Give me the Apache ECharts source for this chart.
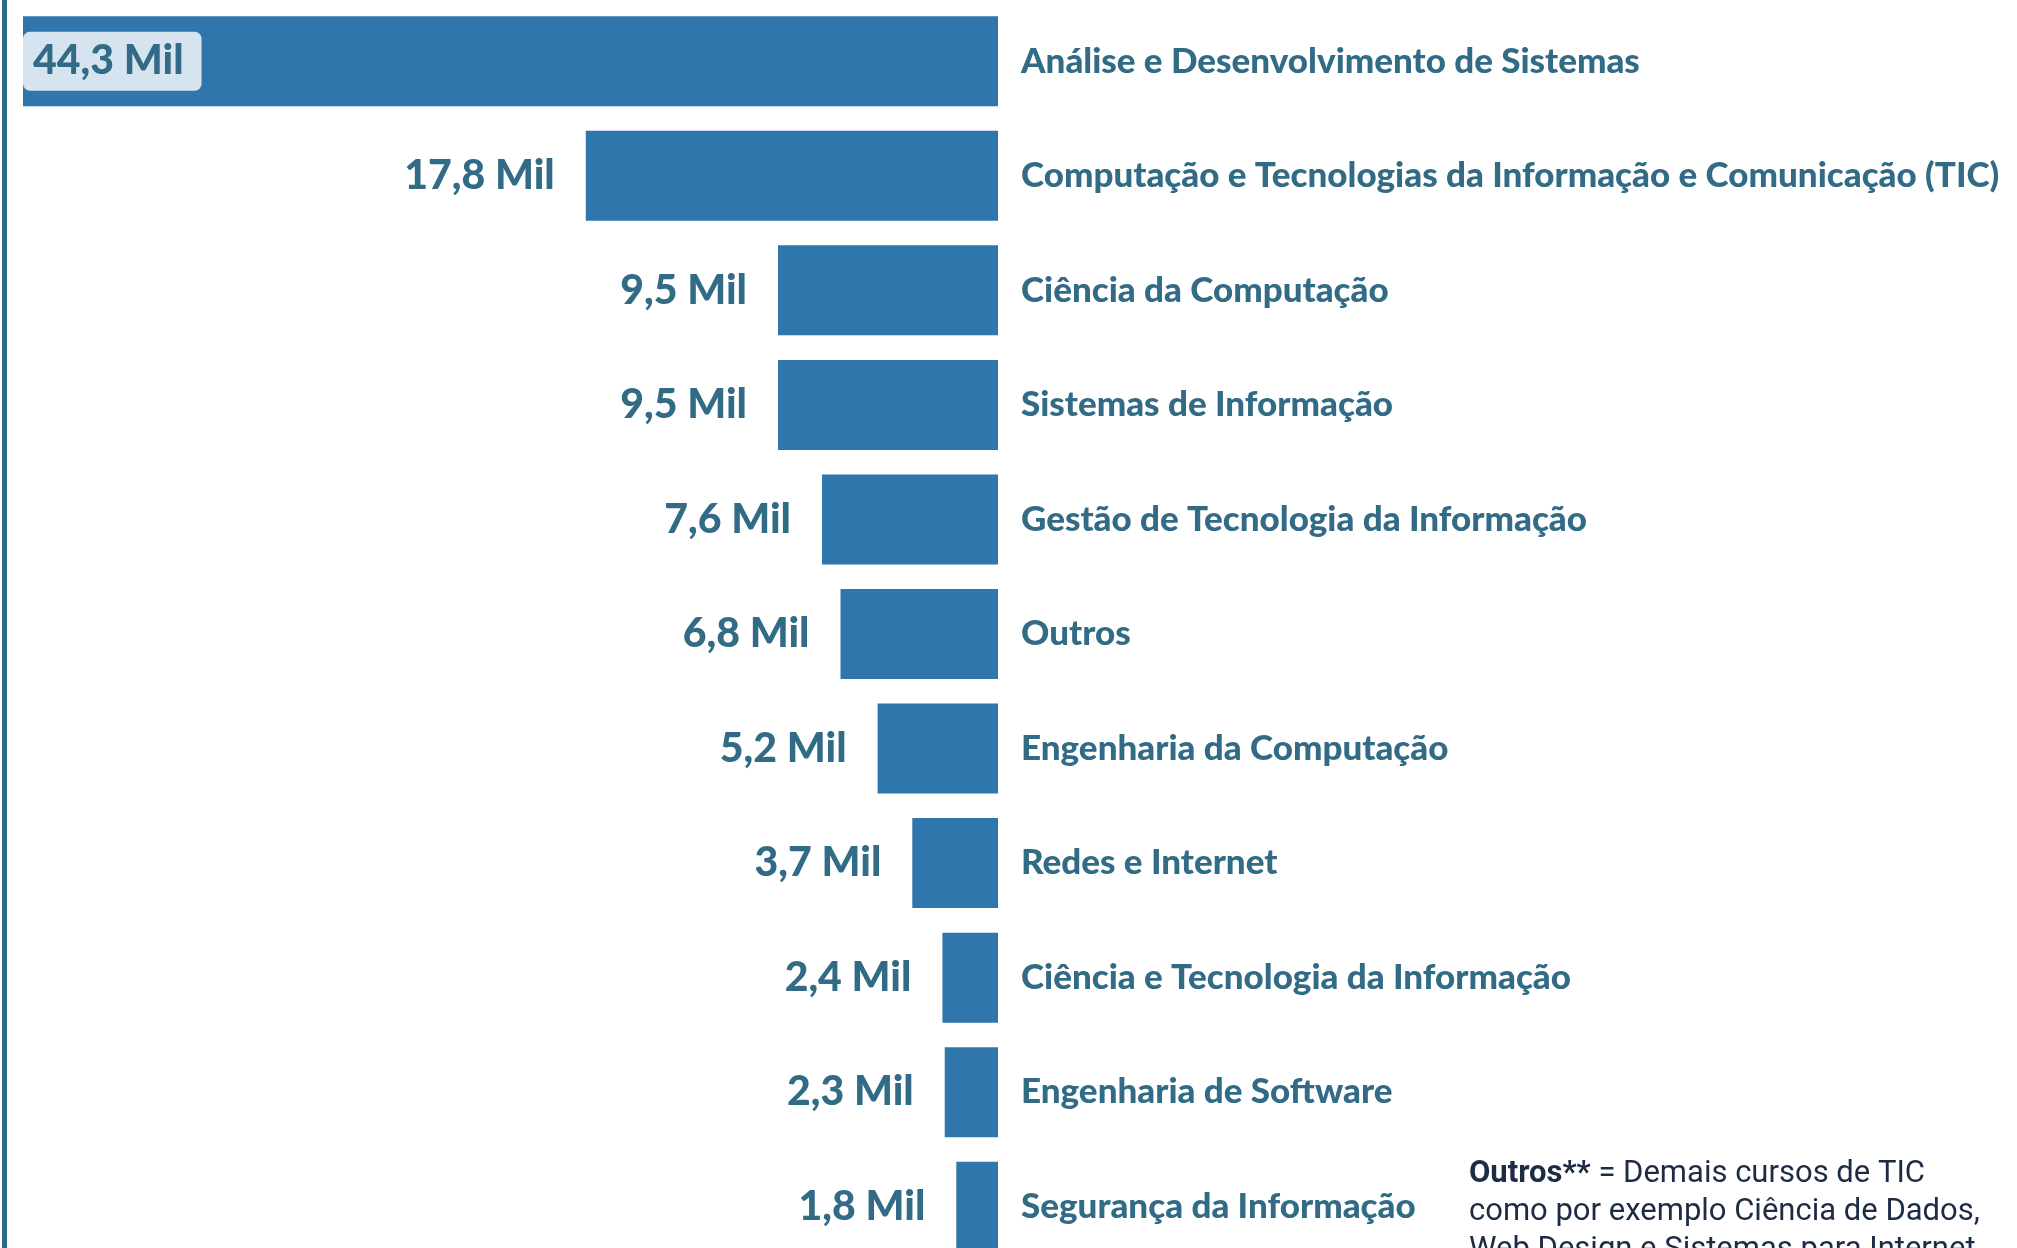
<!DOCTYPE html>
<html>
<head>
<meta charset="utf-8">
<title>Cursos de TIC</title>
<script src="https://cdn.jsdelivr.net/npm/echarts@6/dist/echarts.min.js"></script>
<style>
  html, body { margin: 0; padding: 0; background: #fff; }
  #chart { width: 2017px; height: 1248px; }
</style>
</head>
<body>
<div id="chart"></div>
<script>
  // categorias (de cima para baixo)
  var cursos = [
    'Análise e Desenvolvimento de Sistemas',
    'Computação e Tecnologias da Informação e Comunicação (TIC)',
    'Ciência da Computação',
    'Sistemas de Informação',
    'Gestão de Tecnologia da Informação',
    'Outros',
    'Engenharia da Computação',
    'Redes e Internet',
    'Ciência e Tecnologia da Informação',
    'Engenharia de Software',
    'Segurança da Informação'
  ];
  // valores em milhares
  var valores = [44.3, 17.8, 9.5, 9.5, 7.6, 6.8, 5.2, 3.7, 2.4, 2.3, 1.8];

  var notaLinhas = [
    '{b|Outros**} = Demais cursos de TIC',
    'como por exemplo Ciência de Dados,',
    'Web Design e Sistemas para Internet'
  ];

  var corBarra = '#2e76ab';
  var corTexto = '#326b86';

  function fmt(v) {
    return v.toFixed(1).replace('.', ',') + ' Mil';
  }

  var myChart = echarts.init(document.getElementById('chart'));

  var dados = valores.map(function (v, i) {
    var item = { value: v };
    if (i === 0) {
      // a primeira barra passa do limite do eixo, rotulo fica dentro
      item.label = {
        position: 'insideLeft',
        distance: 0,
        backgroundColor: '#d6e4f0',
        borderRadius: 7,
        padding: [10, 18, 8, 10]
      };
    }
    return item;
  });

  var option = {
    animation: false,
    grid: {
      left: 23,
      right: 1019,
      top: 4,
      height: 1260,
      outerBoundsMode: 'none'
    },
    xAxis: {
      type: 'value',
      inverse: true,
      min: 0,
      max: 42.1,
      show: false
    },
    yAxis: {
      type: 'category',
      data: cursos,
      inverse: true,
      position: 'right',
      axisLine: { show: false },
      axisTick: { show: false },
      splitLine: { show: false },
      axisLabel: {
        margin: 23,
        color: corTexto,
        fontFamily: 'Lato',
        fontWeight: 900,
        fontSize: 35
      }
    },
    series: [{
      type: 'bar',
      data: dados,
      barWidth: 90,
      itemStyle: { color: corBarra },
      label: {
        show: true,
        position: 'left',
        distance: 31,
        color: corTexto,
        fontFamily: 'Lato',
        fontWeight: 900,
        fontSize: 41,
        formatter: function (p) { return fmt(p.value); }
      }
    }],
    graphic: [
      {
        // linha vertical da esquerda
        type: 'rect',
        shape: { x: 2, y: 0, width: 5, height: 1248 },
        style: { fill: '#2c6a88' },
        silent: true
      },
      {
        type: 'text',
        left: 1469,
        top: 1155,
        style: {
          text: notaLinhas.join('\n'),
          fill: '#1e2b45',
          font: '31px Roboto',
          lineHeight: 38,
          rich: {
            b: { fontWeight: 'bold', fontFamily: 'Roboto', fontSize: 31, fill: '#1e2b45' }
          }
        }
      }
    ]
  };

  myChart.setOption(option, true);
</script>
</body>
</html>
